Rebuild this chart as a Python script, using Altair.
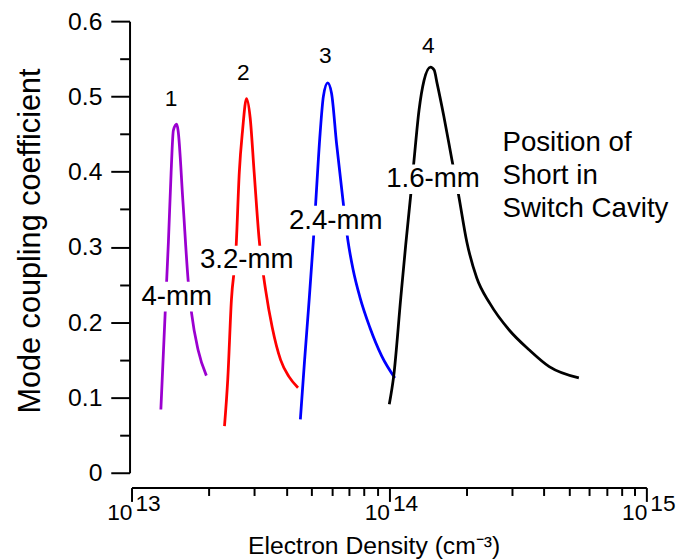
import altair as alt
import pandas as pd

FONT = "Liberation Sans"

# Curve data (electron density in cm^-3, mode coupling coefficient)
x1 = [1.300e13, 1.351e13, 1.391e13, 1.425e13, 1.454e13, 1.498e13, 1.516e13, 1.584e13, 1.660e13, 1.711e13, 1.814e13, 1.953e13]
y1 = [0.084, 0.212, 0.307, 0.399, 0.455, 0.463, 0.455, 0.360, 0.255, 0.212, 0.163, 0.129]

x2 = [2.297e13, 2.365e13, 2.443e13, 2.547e13, 2.622e13, 2.700e13, 2.797e13, 2.891e13, 2.995e13, 3.130e13, 3.321e13, 3.521e13, 3.794e13, 4.082e13, 4.433e13]
y2 = [0.062, 0.124, 0.229, 0.298, 0.399, 0.455, 0.497, 0.471, 0.399, 0.311, 0.242, 0.193, 0.150, 0.128, 0.113]

x3 = [4.528e13, 4.703e13, 4.872e13, 5.092e13, 5.197e13, 5.403e13, 5.563e13, 5.778e13, 5.986e13, 6.256e13, 6.638e13, 6.938e13, 7.255e13, 7.716e13, 8.430e13, 9.376e13, 1.054e14]
y3 = [0.071, 0.150, 0.219, 0.311, 0.360, 0.451, 0.500, 0.518, 0.504, 0.438, 0.360, 0.307, 0.270, 0.233, 0.193, 0.155, 0.126]

x4 = [1.003e14, 1.043e14, 1.112e14, 1.162e14, 1.215e14, 1.252e14, 1.309e14, 1.368e14, 1.450e14, 1.498e14, 1.539e14, 1.633e14, 1.756e14, 1.864e14, 2.006e14, 2.192e14, 2.466e14, 2.942e14, 3.512e14, 4.193e14, 5.466e14]
y4 = [0.091, 0.128, 0.233, 0.303, 0.369, 0.416, 0.482, 0.521, 0.539, 0.535, 0.517, 0.474, 0.416, 0.369, 0.307, 0.259, 0.225, 0.189, 0.163, 0.141, 0.126]

series_names = ["1", "2", "3", "4"]
series_colors = ["#9B00D0", "#FF0000", "#0000FF", "#000000"]

# Annotation labels
num_labels = ["1", "2", "3", "4"]
num_x = [1.425e13, 2.717e13, 5.662e13, 1.421e14]
num_y = [0.496, 0.531, 0.554, 0.567]

mm_labels = ["4-mm", "3.2-mm", "2.4-mm", "1.6-mm"]
mm_x = [1.498e13, 2.803e13, 6.215e13, 1.483e14]
mm_y = [0.234, 0.282, 0.335, 0.390]
mm_wide = [False, True, True, True]

pos_lines = ["Position of", "Short in", "Switch Cavity"]
pos_x = [2.76e14, 2.76e14, 2.76e14]
pos_y = [0.427, 0.383, 0.340]

# Axis ticks
x_ticks = [1e13, 2e13, 3e13, 4e13, 5e13, 6e13, 7e13, 8e13, 9e13,
           1e14, 2e14, 3e14, 4e14, 5e14, 6e14, 7e14, 8e14, 9e14, 1e15]
x_decades = [1e13, 1e14, 1e15]
x_dec_base = ["10", "10", "10"]
x_dec_exp = ["13", "14", "15"]
y_ticks = [0, 0.05, 0.1, 0.15, 0.2, 0.25, 0.3, 0.35, 0.4, 0.45, 0.5, 0.55, 0.6]

rows = []
for s, xs, ys in zip(series_names, [x1, x2, x3, x4], [y1, y2, y3, y4]):
    for i, (a, b) in enumerate(zip(xs, ys)):
        rows.append({"series": s, "x": a, "y": b, "i": i})
df = pd.DataFrame(rows)

num_df = pd.DataFrame({"x": num_x, "y": num_y, "t": num_labels})
mm_df = pd.DataFrame({"x": mm_x, "y": mm_y, "t": mm_labels, "wide": mm_wide})
pos_df = pd.DataFrame({"x": pos_x, "y": pos_y, "t": pos_lines})
dec_df = pd.DataFrame({"x": x_decades, "base": x_dec_base, "exp": x_dec_exp})

xscale = alt.Scale(type="log", domain=[1e13, 1e15], nice=False)
yscale = alt.Scale(domain=[0, 0.6], nice=False, zero=False)

x_axis = alt.Axis(
    values=x_ticks, labels=False, grid=False, offset=15,
    domainColor="black", domainWidth=2, tickColor="black", tickWidth=2,
    tickSize={"condition": {"test": "datum.value == 1e13 || datum.value == 1e14 || datum.value == 1e15", "value": 14}, "value": 8},
    title="Electron Density (cm⁻³)", titleFont=FONT, titleFontSize=25,
    titleFontWeight="normal", titleColor="black",
    titleX=245, titleY=67, titleBaseline="alphabetic", titleAlign="center",
)
y_axis = alt.Axis(
    values=y_ticks, grid=False, offset=2,
    domainColor="black", domainWidth=2, tickColor="black", tickWidth=2,
    tickSize={"condition": {"test": "round(datum.value*100) % 10 == 0", "value": 19}, "value": 10},
    labelExpr="round(datum.value*100) % 10 == 0 ? (datum.value == 0 ? '0' : format(datum.value, '.1f')) : ''",
    labelFont=FONT, labelFontSize=25, labelColor="black", labelPadding=9, labelFlush=False,
    title="Mode coupling coefficient", titleFont=FONT, titleFontSize=31,
    titleFontWeight="normal", titleColor="black",
    titleX=-91, titleY=222, titleBaseline="alphabetic", titleAlign="center",
)

X = alt.X("x:Q", scale=xscale, axis=x_axis)
Y = alt.Y("y:Q", scale=yscale, axis=y_axis)

lines = alt.Chart(df).mark_line(strokeWidth=2.8, interpolate="monotone").encode(
    x=X, y=Y,
    color=alt.Color("series:N", scale=alt.Scale(domain=series_names, range=series_colors), legend=None),
    detail="series:N",
    order="i:Q",
)

mask_narrow = alt.Chart(mm_df).transform_filter("!datum.wide").mark_rect(
    color="white", width=76, height=30
).encode(x=X, y=Y)
mask_wide = alt.Chart(mm_df).transform_filter("datum.wide").mark_rect(
    color="white", width=98, height=30
).encode(x=X, y=Y)
mm_text = alt.Chart(mm_df).mark_text(
    font=FONT, fontSize=28, color="black", align="center", baseline="middle",
).encode(text="t:N", x=X, y=Y)
num_text = alt.Chart(num_df).mark_text(
    font=FONT, fontSize=23, color="black", align="center", baseline="middle",
).encode(text="t:N", x=X, y=Y)
pos_text = alt.Chart(pos_df).mark_text(
    font=FONT, fontSize=28, color="black", align="left", baseline="alphabetic",
).encode(text="t:N", x=X, y=Y)

base_text = alt.Chart(dec_df).mark_text(
    font=FONT, fontSize=23, color="black", align="right", baseline="alphabetic", dx=1,
).encode(x=X, y=alt.value(505), text="base:N")
exp_text = alt.Chart(dec_df).mark_text(
    font=FONT, fontSize=23, color="black", align="left", baseline="alphabetic", dx=4,
).encode(x=X, y=alt.value(496), text="exp:N")

chart = alt.layer(
    lines, mask_narrow, mask_wide, mm_text, num_text, pos_text, base_text, exp_text
).properties(
    width=521, height=457,
    autosize=alt.AutoSizeParams(type="none"),
    padding={"left": 125, "top": 10, "right": 32, "bottom": 85},
    background="white",
).configure_view(stroke=None)

chart.save("out.html", embed_options={"renderer": "svg", "actions": False})
